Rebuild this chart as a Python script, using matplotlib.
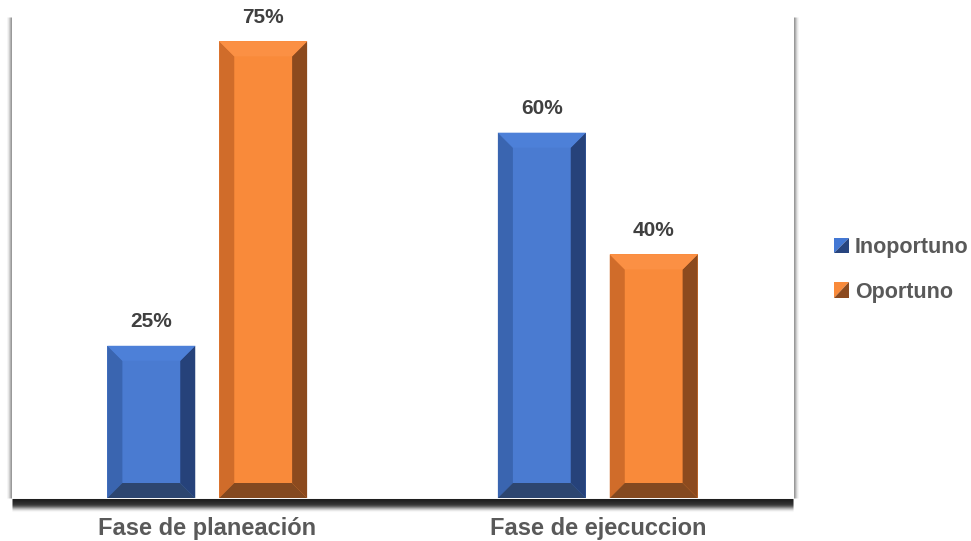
import matplotlib
matplotlib.use("Agg")
import matplotlib.pyplot as plt
from matplotlib.patches import Polygon
from matplotlib.legend_handler import HandlerBase
from matplotlib.lines import Line2D
import matplotlib.transforms as mtransforms
import numpy as np

plt.rcParams['font.family'] = ['Liberation Sans', 'DejaVu Sans']

categories = ["Fase de planeación", "Fase de ejecuccion"]
series_names = ["Inoportuno", "Oportuno"]
inoportuno = [25, 60]
oportuno = [75, 40]
value_labels_ino = ["25%", "60%"]
value_labels_opo = ["75%", "40%"]

# colors: face, left bevel, right bevel, bottom bevel, top bevel
blue = dict(face="#4A7BD1", left="#3A65B0", right="#26427A", bottom="#2D4670", top="#4D80D8")
orange = dict(face="#F98A3A", left="#D06C2A", right="#8C4A1E", bottom="#844920", top="#FB9044")

fig = plt.figure(figsize=(9.71, 5.41), dpi=100)
W, H = 971, 541
ax = fig.add_axes([12 / W, (H - 498) / H, 781 / W, 481 / H])
ax.set_xlim(-0.5, 1.5)
ax.set_ylim(0, 79)

bar_w = 0.225
gap = 0.0615
x = np.arange(len(categories))
off = bar_w / 2 + gap / 2

px_x = 2.0 / 781.0  # data units per pixel (x)
px_y = 79.0 / 481.0  # data units per pixel (y)
bev = 15


def bevel_bar(xc, h, col):
    bars = ax.bar([xc], [h], width=bar_w, color=col["face"], edgecolor="none", zorder=2)
    b = bars[0]
    x0, x1 = b.get_x(), b.get_x() + b.get_width()
    y0, y1 = 0, b.get_height()
    bx, by = bev * px_x, bev * px_y
    polys = [
        ([(x0, y0), (x0 + bx, y0 + by), (x0 + bx, y1 - by), (x0, y1)], col["left"]),
        ([(x1, y0), (x1 - bx, y0 + by), (x1 - bx, y1 - by), (x1, y1)], col["right"]),
        ([(x0, y0), (x1, y0), (x1 - bx, y0 + by), (x0 + bx, y0 + by)], col["bottom"]),
        ([(x0, y1), (x1, y1), (x1 - bx, y1 - by), (x0 + bx, y1 - by)], col["top"]),
    ]
    for pts, c in polys:
        ax.add_patch(Polygon(pts, closed=True, facecolor=c, edgecolor="none", zorder=3))
    return b


for i in range(len(categories)):
    b1 = bevel_bar(x[i] - off, inoportuno[i], blue)
    b2 = bevel_bar(x[i] + off, oportuno[i], orange)
    for b, lab in ((b1, value_labels_ino[i]), (b2, value_labels_opo[i])):
        ax.annotate(lab, (b.get_x() + b.get_width() / 2, b.get_height()),
                    xytext=(0, 17.5), textcoords="offset points",
                    ha="center", va="center", fontsize=15, fontweight="bold",
                    color="#404040")

ax.set_xticks(x)
ax.set_xticklabels(categories, fontsize=17, fontweight="bold", color="#595959")
ax.tick_params(axis="x", length=0, pad=14)
ax.set_yticks([])
for s in ["top", "left", "right", "bottom"]:
    ax.spines[s].set_visible(False)


# frame shadow
def edge_line(xs, ys, dx, dy, color, lw, alpha):
    t = ax.transAxes + mtransforms.ScaledTranslation(dx / 100, dy / 100, fig.dpi_scale_trans)
    ax.add_line(Line2D(xs, ys, transform=t, color=color, lw=lw * 0.72, alpha=alpha,
                       clip_on=False, zorder=1, solid_capstyle="butt"))


for k, a in enumerate([0.6, 0.45, 0.28, 0.14, 0.06]):
    edge_line([0, 0], [0, 1], -1 - k, 0, "#555555", 1, a)
    edge_line([1, 1], [0, 1], 1 + k, 0, "#555555", 1, a)
# bottom thick dark bar with fading shadow
for k, (c, a) in enumerate([("#1e1e1e", 1), ("#222222", 1), ("#262626", 1), ("#2b2b2b", 1),
                            ("#303030", 1), ("#383838", 1), ("#404040", 0.95),
                            ("#4c4c4c", 0.85), ("#5a5a5a", 0.7), ("#707070", 0.55),
                            ("#8a8a8a", 0.4), ("#aaaaaa", 0.25), ("#cccccc", 0.12)]):
    edge_line([0, 1], [0, 0], 0, -k - 0.5, c, 1.05, a)


class BevelHandler(HandlerBase):
    def __init__(self, light, dark):
        super().__init__()
        self.light, self.dark = light, dark

    def create_artists(self, legend, orig_handle, xdescent, ydescent, width, height,
                       fontsize, trans):
        s = width
        x0 = -xdescent
        y0 = -ydescent + height / 2 - s / 2
        p1 = Polygon([(x0, y0), (x0, y0 + s), (x0 + s, y0 + s)], closed=True,
                     facecolor=self.light, edgecolor="none", transform=trans)
        p2 = Polygon([(x0, y0), (x0 + s, y0), (x0 + s, y0 + s)], closed=True,
                     facecolor=self.dark, edgecolor="none", transform=trans)
        return [p1, p2]


h1 = Line2D([], [])
h2 = Line2D([], [])
leg = fig.legend([h1, h2], series_names,
                 handler_map={h1: BevelHandler("#4378D4", "#28457F"),
                              h2: BevelHandler("#F98A3A", "#8C4A1E")},
                 loc="center left", bbox_to_anchor=(834 / W, 1 - 270 / H),
                 frameon=False, prop=dict(size=15.5, weight="bold"),
                 handlelength=0.7, handleheight=0.7, handletextpad=0.28,
                 labelspacing=1.07, borderpad=0, borderaxespad=0)
for t in leg.get_texts():
    t.set_color("#595959")

fig.savefig("out.png", dpi=100)
